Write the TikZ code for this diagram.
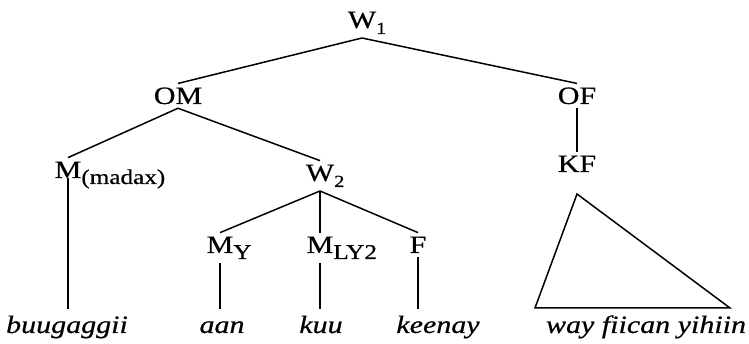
\documentclass[tikz,border=0pt]{standalone}
\usepackage{fontspec}
\setmainfont{Liberation Serif}[FakeStretch=1.2, FakeBold=0.6, Ligatures=CommonOff]
\usetikzlibrary{positioning}
\newcommand{\lowsub}[2][21]{\raisebox{-6pt}{\fontsize{#1}{#1}\selectfont #2}}

\begin{document}
\begin{tikzpicture}[
    x=1pt, y=-1pt,
    cat/.style={inner sep=0pt, outer sep=4pt, anchor=base, font=\fontsize{25}{30}\selectfont},
    word/.style={inner sep=0pt, outer sep=4pt, anchor=base, text height=20pt, font=\fontsize{25}{30}\selectfont\itshape},
    line width=1.5pt
]

% SAME BOUNDING BOX
\path[use as bounding box] (0,0) rectangle (749,344);

\node[cat] (W1) at (362,28) {W\rlap{\lowsub[17]{1}}};
\node[cat] (OM) at (178,104) {OM};
\node[cat] (OF) at (577,104) {OF};
\node[cat] (KF) at (577,172) {KF};
\node[cat] (Mm) at (68,178) {M\rlap{\lowsub{(madax)}}};
\node[cat] (W2) at (320,181) {W\rlap{\lowsub[17]{2}}};
\node[cat] (My) at (220,253) {M\rlap{\lowsub{Y}}};
\node[cat] (MLY) at (320,253) {M\rlap{\lowsub{LY2}}};
\node[cat] (F) at (418,253) {F};

\node[word] (buu) at (67,333) {buugaggii};
\node[word] (aan) at (222,333) {aan};
\node[word] (kuu) at (321,333) {kuu};
\node[word] (kee) at (438,333) {keenay};
\node[word] (way) at (646,333) {way fiican yihiin};

\draw (W1.south) -- (OM.north);
\draw (W1.south) -- (OF.north);
\draw (OM.south) -- (Mm.north);
\draw (OM.south) -- (W2.north);
\draw (OF.south) -- (KF.north);
\draw (W2.south) -- (My.north);
\draw (W2.south) -- (MLY.north);
\draw (W2.south) -- (F.north);

\draw (Mm.base) -- (Mm.base |- buu.north);
\draw (My.south) -- (My.south |- aan.north);
\draw (MLY.south) -- (MLY.south |- kuu.north);
\draw (F.south) -- (F.south |- kee.north);

% triangle over the phrase
\coordinate[below=18pt of KF] (Tt);
\coordinate (TL) at (535,308);
\coordinate (TR) at (730,308);
\draw (Tt) -- (TL) -- (TR) -- cycle;

\end{tikzpicture}
\end{document}
